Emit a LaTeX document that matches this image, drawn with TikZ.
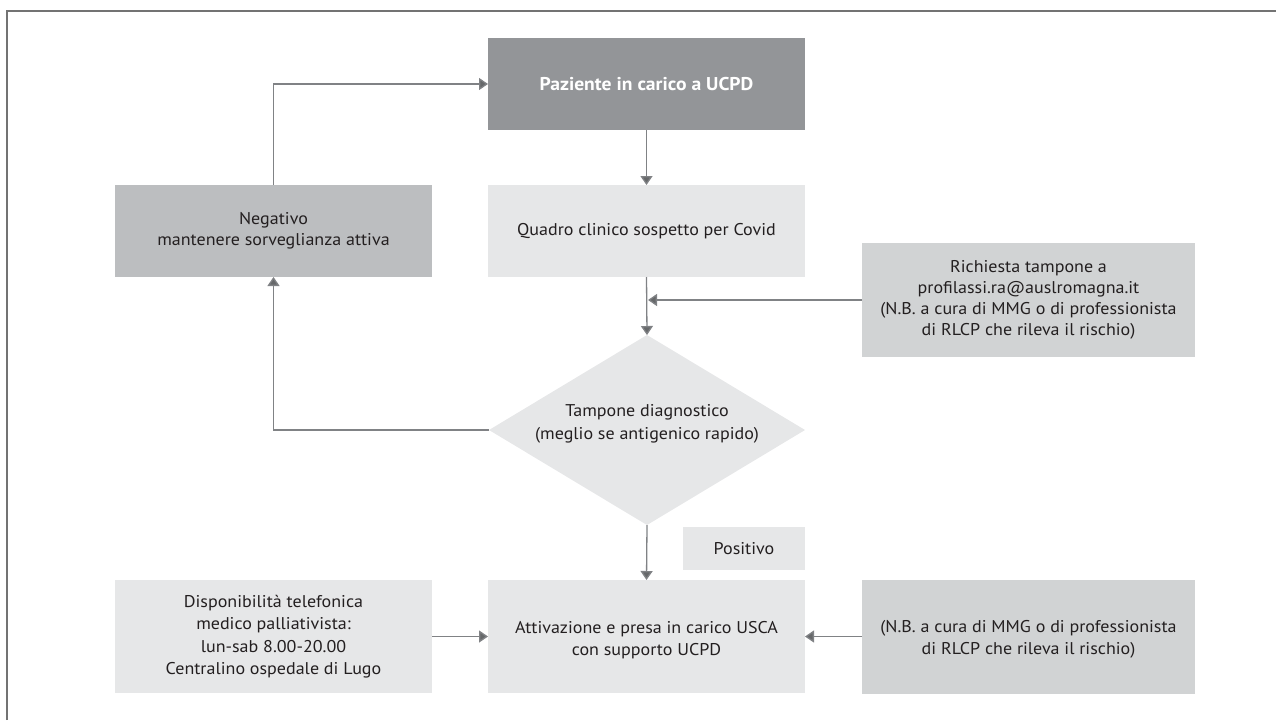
\documentclass[tikz,border=0pt]{standalone}
\usepackage{fontspec}
\setmainfont{PT Sans}[FakeStretch=1.06]
\usetikzlibrary{arrows.meta,shapes.geometric}
\definecolor{cdark}{HTML}{939598}
\definecolor{cmid}{HTML}{BCBEC0}
\definecolor{clight}{HTML}{E6E7E8}
\definecolor{cnote}{HTML}{D1D3D4}
\definecolor{cline}{HTML}{808285}
\definecolor{ctext}{HTML}{231F20}
\tikzset{
  box/.style={rectangle, inner sep=0pt, outer sep=0pt, align=center, text=ctext, font=\fontsize{17}{21}\selectfont},
  conn/.style={draw=cline, line width=1.3pt, -{Triangle[width=12pt,length=9pt,fill=cline!80!black]}},
}
\begin{document}
\begin{tikzpicture}[x=1pt,y=-1pt]
\useasboundingbox (0,0) rectangle (1276,720);
\draw[draw=gray!90!black, line width=2.2pt] (7,720) -- (7,11) -- (1276,11);
% nodes
\node[box, fill=cdark, text=white, minimum width=317pt, minimum height=92pt, font=\fontsize{18.5}{20}\selectfont\bfseries] (paz) at (646.5,84) {Paziente in carico a UCPD};
\node[box, fill=clight, minimum width=317pt, minimum height=92pt] (quad) at (646.5,231) {Quadro clinico sospetto per Covid};
\node[box, fill=cmid, minimum width=317pt, minimum height=92pt] (neg) at (273.5,231) {Negativo\\mantenere sorveglianza attiva};
\node[box, fill=cnote, minimum width=333pt, minimum height=114pt] (rich) at (1028.5,300) {Richiesta tampone a\\profilassi.ra@auslromagna.it\\(N.B. a cura di MMG o di professionista\\di RLCP che rileva il rischio)};
\node[box, diamond, fill=clight, minimum width=316pt, minimum height=190pt] (tamp) at (647,430) {};
\node[box, font=\fontsize{17}{23}\selectfont] (tampt) at (647,424) {Tampone diagnostico\\(meglio se antigenico rapido)};
\node[box, fill=clight, minimum width=122pt, minimum height=43pt] (pos) at (744,548.5) {Positivo};
\node[box, fill=clight, minimum width=317pt, minimum height=113pt] (att) at (646.5,636.5) {};
\node[box, font=\fontsize{17}{22}\selectfont] (attt) at (646.5,640) {Attivazione e presa in carico USCA\\con supporto UCPD};
\node[box, fill=clight, minimum width=317pt, minimum height=113pt, font=\fontsize{17}{22.5}\selectfont] (disp) at (273.5,636.5) {Disponibilità telefonica\\medico palliativista:\\lun-sab 8.00-20.00\\Centralino ospedale di Lugo};
\node[box, fill=cnote, minimum width=333pt, minimum height=114pt] (nb) at (1028.5,637) {};
\node[box, font=\fontsize{17}{22}\selectfont] (nbt) at (1028.5,639) {(N.B. a cura di MMG o di professionista\\di RLCP che rileva il rischio)};
% connectors
\coordinate (j) at (648,300);
\draw[conn] (paz.south) -- (quad.north);
\draw[conn] (quad.south) -- (tamp.north);
\draw[conn] (rich.west) -- (j);
\draw[conn] (tamp.west) -| (neg.south);
\draw[conn] (neg.north) |- (paz.west);
\draw[conn] (tamp.south) -- (att.north);
\draw[conn] (disp.east) -- (att.west);
\draw[conn] (nb.west |- att.east) -- (att.east);
\end{tikzpicture}
\end{document}
